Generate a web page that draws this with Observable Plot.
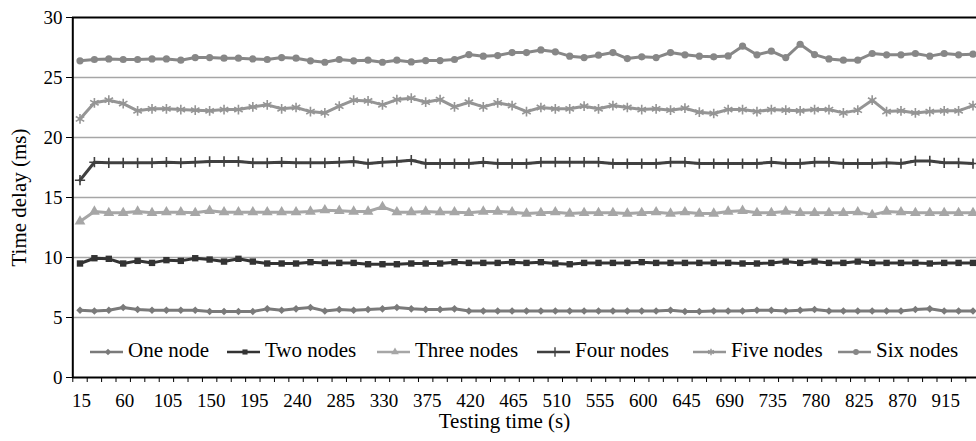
<!DOCTYPE html>
<html><head><meta charset="utf-8">
<script src="https://cdn.jsdelivr.net/npm/d3@7"></script>
<script src="https://cdn.jsdelivr.net/npm/@observablehq/plot@0.6"></script>
<style>html,body{margin:0;padding:0;background:#fff;} #chart{width:976px;height:441px;overflow:hidden;position:relative}
#chart svg text{font-family:'Liberation Serif','Times New Roman',serif;}</style>
</head><body><div id="chart"></div>
<script>
const times = [15,30,45,60,75,90,105,120,135,150,165,180,195,210,225,240,255,270,285,300,315,330,345,360,375,390,405,420,435,450,465,480,495,510,525,540,555,570,585,600,615,630,645,660,675,690,705,720,735,750,765,780,795,810,825,840,855,870,885,900,915,930,945];
const xLabels = [15,60,105,150,195,240,285,330,375,420,465,510,555,600,645,690,735,780,825,870,915];
const yTicks = [0,5,10,15,20,25,30];

const oneNode = [5.61,5.55,5.61,5.83,5.66,5.61,5.61,5.61,5.61,5.50,5.50,5.50,5.50,5.72,5.61,5.72,5.83,5.55,
  5.66,5.61,5.66,5.72,5.83,5.72,5.66,5.66,5.72,5.55,5.55,5.55,5.55,5.55,5.55,5.55,5.55,5.55,5.55,5.55,5.55,5.55,
  5.55,5.61,5.50,5.50,5.55,5.55,5.55,5.61,5.61,5.55,5.61,5.66,5.55,5.55,5.55,5.55,5.55,5.55,5.66,5.72,5.55,5.55,5.55];
const twoNodes = [9.50,9.94,9.89,9.50,9.72,9.55,9.78,9.72,9.94,9.83,9.66,9.89,9.66,9.50,9.50,9.50,9.61,9.55,
  9.55,9.55,9.44,9.44,9.44,9.50,9.50,9.50,9.61,9.55,9.55,9.55,9.61,9.55,9.61,9.50,9.44,9.55,9.55,9.55,9.55,9.61,
  9.55,9.55,9.55,9.55,9.55,9.55,9.50,9.50,9.55,9.66,9.55,9.66,9.55,9.55,9.66,9.55,9.55,9.55,9.55,9.50,9.55,9.55,9.55];
const threeNodes = [13.00,13.83,13.72,13.72,13.83,13.72,13.78,13.78,13.72,13.89,13.78,13.78,13.78,13.78,13.78,13.78,13.83,13.94,
  13.89,13.83,13.83,14.22,13.78,13.78,13.83,13.78,13.78,13.72,13.83,13.83,13.78,13.66,13.72,13.78,13.66,13.72,13.72,13.72,13.66,13.72,
  13.78,13.66,13.78,13.66,13.66,13.83,13.89,13.72,13.72,13.83,13.72,13.72,13.72,13.72,13.78,13.55,13.83,13.78,13.72,13.72,13.72,13.72,13.72];
const fourNodes = [16.44,17.94,17.89,17.89,17.89,17.89,17.94,17.89,17.94,18.00,18.00,18.00,17.89,17.89,17.94,17.89,17.89,17.89,
  17.94,18.00,17.83,17.94,18.00,18.11,17.83,17.83,17.83,17.83,17.94,17.83,17.83,17.83,17.94,17.94,17.94,17.94,17.94,17.83,17.83,17.83,
  17.83,17.94,17.94,17.83,17.83,17.83,17.83,17.83,17.94,17.83,17.83,17.94,17.94,17.83,17.83,17.83,17.89,17.83,18.05,18.05,17.89,17.89,17.83];
const fiveNodes = [21.55,22.89,23.11,22.83,22.22,22.39,22.39,22.33,22.28,22.22,22.33,22.33,22.55,22.72,22.39,22.50,22.16,22.05,
  22.61,23.11,23.05,22.72,23.16,23.28,22.94,23.16,22.55,22.94,22.55,22.89,22.66,22.16,22.50,22.39,22.39,22.61,22.39,22.66,22.50,22.33,
  22.39,22.28,22.44,22.11,22.00,22.33,22.33,22.16,22.33,22.28,22.22,22.33,22.33,22.05,22.28,23.11,22.16,22.22,22.05,22.16,22.22,22.22,22.66];
const sixNodes = [26.39,26.50,26.55,26.50,26.50,26.55,26.55,26.44,26.66,26.66,26.61,26.61,26.55,26.50,26.66,26.61,26.39,26.27,
  26.50,26.39,26.44,26.27,26.44,26.30,26.41,26.41,26.50,26.91,26.78,26.83,27.08,27.08,27.30,27.14,26.78,26.66,26.86,27.08,26.58,26.72,
  26.66,27.08,26.89,26.78,26.72,26.80,27.61,26.89,27.19,26.66,27.77,26.91,26.55,26.44,26.44,27.00,26.89,26.89,27.00,26.78,27.00,26.89,26.94];

const FONT = "'Liberation Serif', 'Times New Roman', serif";
const series = [
  {name: "One node", values: oneNode, color: "#7a7a7a", symbol: "diamond2", filled: true, r: 3.4, d3s: d3.symbolDiamond2},
  {name: "Two nodes", values: twoNodes, color: "#333333", symbol: "square", filled: true, r: 3.6, d3s: d3.symbolSquare},
  {name: "Three nodes", values: threeNodes, color: "#a6a6a6", symbol: "triangle", filled: true, r: 4.0, d3s: d3.symbolTriangle},
  {name: "Four nodes", values: fourNodes, color: "#404040", symbol: "plus", filled: false, r: 3.4, d3s: d3.symbolPlus},
  {name: "Five nodes", values: fiveNodes, color: "#959595", symbol: "asterisk", filled: false, r: 4.6, d3s: d3.symbolAsterisk},
  {name: "Six nodes", values: sixNodes, color: "#878787", symbol: "circle", filled: true, r: 3.6, d3s: d3.symbolCircle}
];
const legendStarts = [90, 227, 377, 537, 693, 838];

const boundaries = times.map(t => t - 7.5).concat([times[times.length - 1] + 7.5]);

const dataMarks = [];
for (const s of series) {
  const rows = times.map((t, i) => ({t, v: s.values[i]}));
  dataMarks.push(Plot.line(rows, {x: "t", y: "v", stroke: s.color, strokeWidth: 3, curve: "linear"}));
  dataMarks.push(Plot.dot(rows, s.filled
    ? {x: "t", y: "v", symbol: () => s.symbol, fill: s.color, stroke: "none", r: s.r}
    : {x: "t", y: "v", symbol: () => s.symbol, fill: "none", stroke: s.color, strokeWidth: 1.6, r: s.r}));
}

const plot = Plot.plot({
  width: 976,
  height: 441,
  marginLeft: 72,
  marginRight: 0,
  marginTop: 17,
  marginBottom: 64,
  style: {fontFamily: FONT, fontSize: "19px", background: "#fff", color: "#000"},
  x: {type: "linear", domain: [7.5, 952.5], range: [72.3, 979.7]},
  y: {domain: [0, 30]},
  symbol: {type: "identity"},
  marks: [
    Plot.ruleY([5, 10, 15, 20, 25], {stroke: "#a6a6a6", strokeWidth: 1.5}),
    Plot.ruleY([30], {stroke: "#000", strokeWidth: 2}),
    Plot.axisY(yTicks, {tickSize: 6, tickPadding: 4, fontSize: 19, fontFamily: FONT, label: null}),
    Plot.axisX(boundaries, {tickSize: 5, tickFormat: () => "", label: null}),
    Plot.axisX(xLabels, {tickSize: 0, tickPadding: 16, fontSize: 19, fontFamily: FONT, label: null, dx: 1.5}),
    Plot.ruleY([0], {stroke: "#000", strokeWidth: 2}),
    Plot.ruleX([7.5], {stroke: "#000", strokeWidth: 2}),
    ...dataMarks,
    Plot.text(["Testing time (s)"], {frameAnchor: "bottom", lineAnchor: "top", textAnchor: "middle", dy: 36, dx: -20, fontSize: 21, fontFamily: FONT, fill: "#000"}),
    Plot.text(["Time delay (ms)"], {frameAnchor: "left", rotate: -90, textAnchor: "middle", dx: -53, fontSize: 21, fontFamily: FONT, fill: "#000"})
  ]
});
document.getElementById("chart").append(plot);

// legend inside the plot area
const svg = d3.select(plot);
const g = svg.append("g").attr("font-family", FONT).attr("font-size", 21).attr("fill", "#000").attr("text-anchor", "start");
let minX = 0;
const ly = 352;
series.forEach((s, i) => {
  const lx = Math.max(legendStarts[i], minX);
  g.append("line").attr("x1", lx).attr("x2", lx + 33).attr("y1", ly).attr("y2", ly)
    .attr("stroke", s.color).attr("stroke-width", 2.5);
  const p = g.append("path").attr("transform", `translate(${lx + 18},${ly})`)
    .attr("d", d3.symbol(s.d3s, s.filled ? 26 : 30)());
  if (s.filled) p.attr("fill", s.color); else p.attr("fill", "none").attr("stroke", s.color).attr("stroke-width", 1.4);
  const t = g.append("text").attr("x", lx + 38).attr("y", ly - 2).attr("dy", "0.32em").attr("text-anchor", "start").text(s.name);
  minX = lx + 38 + t.node().getComputedTextLength() + 12;
});
</script></body></html>
